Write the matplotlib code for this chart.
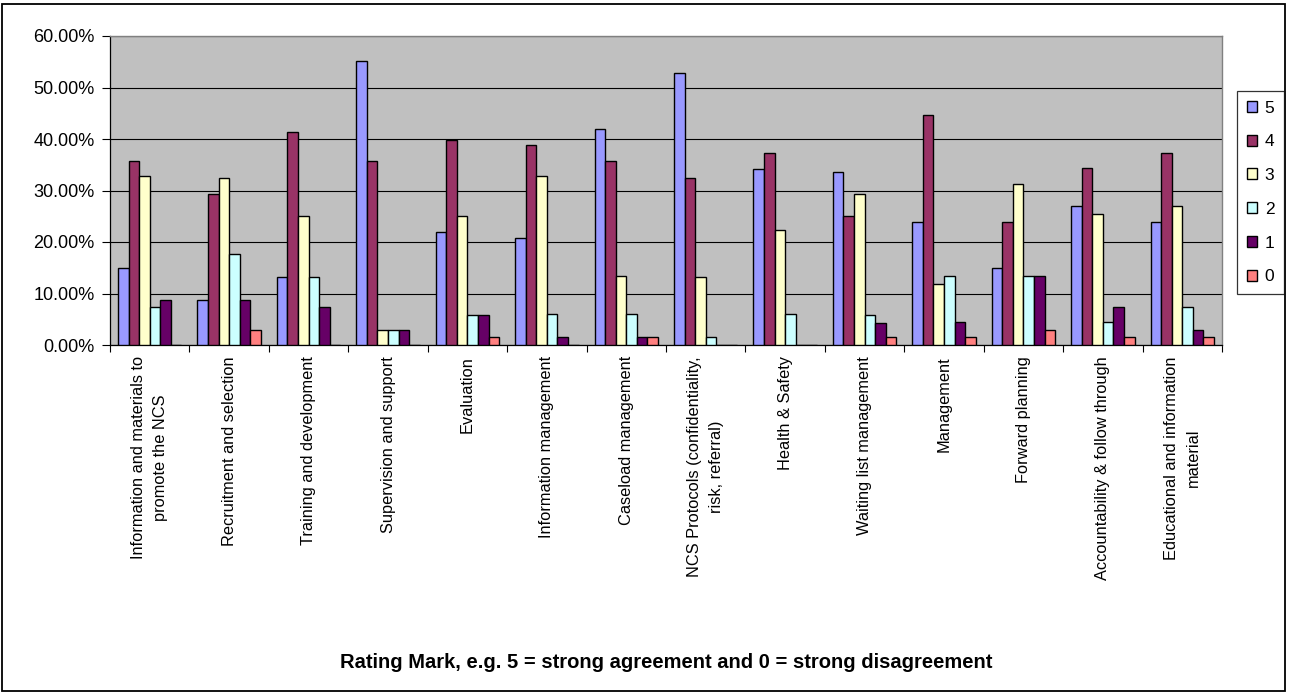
import matplotlib
matplotlib.use("Agg")
import matplotlib.pyplot as plt
import numpy as np
from matplotlib.patches import Rectangle
from matplotlib.ticker import FuncFormatter

plt.rcParams['font.family'] = ['Liberation Sans', 'DejaVu Sans']

categories = [
    "Information and materials to\npromote the NCS",
    "Recruitment and selection",
    "Training and development",
    "Supervision and support",
    "Evaluation",
    "Information management",
    "Caseload management",
    "NCS Protocols (confidentiality,\nrisk, referral)",
    "Health & Safety",
    "Waiting list management",
    "Management",
    "Forward planning",
    "Accountability & follow through",
    "Educational and information\nmaterial",
]

series_names = ["5", "4", "3", "2", "1", "0"]

# percentage of responses per rating mark
rating_5 = [15.0, 8.8, 13.2, 55.1, 22.0, 20.7, 41.9, 52.9, 34.2, 33.6, 23.8, 15.0, 26.9, 23.8]
rating_4 = [35.8, 29.4, 41.3, 35.8, 39.8, 38.8, 35.8, 32.4, 37.3, 25.1, 44.7, 23.8, 34.3, 37.3]
rating_3 = [32.8, 32.5, 25.1, 3.0, 25.1, 32.8, 13.4, 13.2, 22.3, 29.4, 11.9, 31.2, 25.4, 26.9]
rating_2 = [7.3, 17.7, 13.2, 3.0, 5.8, 6.0, 6.0, 1.5, 6.0, 5.8, 13.4, 13.4, 4.5, 7.3]
rating_1 = [8.8, 8.8, 7.3, 3.0, 5.8, 1.5, 1.5, 0.0, 0.0, 4.2, 4.5, 13.4, 7.3, 3.0]
rating_0 = [0.0, 3.0, 0.0, 0.0, 1.5, 0.0, 1.5, 0.0, 0.0, 1.5, 1.5, 3.0, 1.5, 1.5]

series = [rating_5, rating_4, rating_3, rating_2, rating_1, rating_0]
colors = ["#9999FF", "#993366", "#FFFFCC", "#CCFFFF", "#660066", "#FF8080"]

W, H = 1291, 696
fig = plt.figure(figsize=(W / 100, H / 100), dpi=100)
fig.patch.set_facecolor("white")

# outer chart border
fig.add_artist(Rectangle((2 / W, 5 / H), (1285 - 2) / W, (692 - 5) / H,
                         transform=fig.transFigure, fill=False,
                         edgecolor="black", linewidth=1.3))

left, right, top, bottom = 110, 1222, 36, 345
ax = fig.add_axes([left / W, 1 - bottom / H, (right - left) / W, (bottom - top) / H])
ax.set_facecolor("#C0C0C0")

n = len(categories)
bar_w = 1 / 7.5
start = 0.75 * bar_w
for k, (vals, col, name) in enumerate(zip(series, colors, series_names)):
    xs = np.arange(n) + start + k * bar_w
    ax.bar(xs, vals, width=bar_w, align="edge", color=col,
           edgecolor="black", linewidth=1.0, label=name, zorder=3)

ax.set_xlim(0, n)
ax.set_ylim(0, 60)
ax.set_yticks(np.arange(0, 61, 10))
ax.yaxis.set_major_formatter(FuncFormatter(lambda v, p: f"{v:.2f}%"))
ax.tick_params(axis="y", direction="out", length=6, width=0.8, labelsize=13, pad=5)
ax.grid(axis="y", color="black", linewidth=0.8, zorder=1)

ax.set_xticks(np.arange(n) + 0.5)
ax.set_xticklabels(categories, rotation=90, fontsize=11.8, va="top", ha="center",
                   multialignment="center", linespacing=1.55)
ax.set_xticks(np.arange(n + 1), minor=True)
ax.tick_params(axis="x", which="major", length=0, pad=8)
ax.tick_params(axis="x", which="minor", direction="out", length=5, width=0.8)

for s in ("top", "right"):
    ax.spines[s].set_color("#808080")
    ax.spines[s].set_linewidth(1.0)
for s in ("left", "bottom"):
    ax.spines[s].set_color("black")
    ax.spines[s].set_linewidth(0.9)

leg = fig.legend(loc="upper left", bbox_to_anchor=(1237 / W, 1 - 91 / H),
                 fontsize=12.5, frameon=True, fancybox=False, edgecolor="black",
                 handlelength=0.6, handleheight=0.6, handletextpad=0.45,
                 labelspacing=1.08, borderpad=0.55, borderaxespad=0)
leg.get_frame().set_linewidth(0.9)

fig.text((left + right) / 2 / W, 1 - 663 / H,
         "Rating Mark, e.g. 5 = strong agreement and 0 = strong disagreement",
         ha="center", va="center", fontsize=14.5, fontweight="bold")

fig.savefig("out.png", dpi=100)
